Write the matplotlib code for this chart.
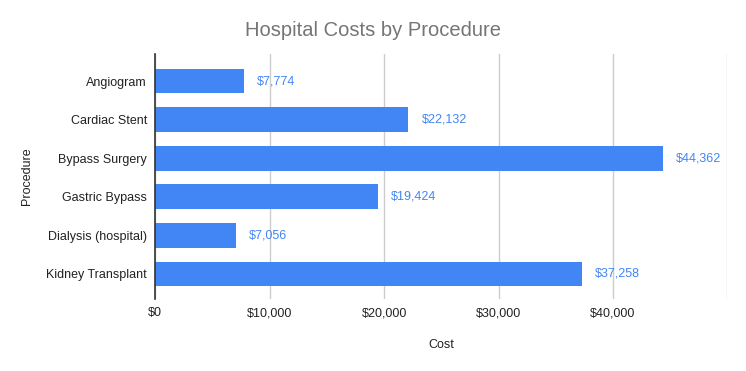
import matplotlib
matplotlib.use("Agg")
import matplotlib.pyplot as plt
from matplotlib.ticker import MultipleLocator

plt.rcParams['font.family'] = ['Liberation Sans', 'DejaVu Sans']

procedures = ["Angiogram", "Cardiac Stent", "Bypass Surgery", "Gastric Bypass",
              "Dialysis (hospital)", "Kidney Transplant"]
costs = [7774, 22132, 44362, 19424, 7056, 37258]
x_ticks = [0, 10000, 20000, 30000, 40000]

fig = plt.figure(figsize=(7.46, 3.71), dpi=100)
W, H = 746, 371
ax = fig.add_axes([155.3 / W, 1 - 299 / H, (727.3 - 155.3) / W, (299 - 54) / H])

bar_color = "#4285F4"
ypos = list(range(len(procedures)))
ax.barh(ypos, costs, height=0.64, color=bar_color, zorder=3)

for y, v in zip(ypos, costs):
    ax.annotate(f"${v:,.0f}", xy=(v, y), xytext=(13, 0), textcoords="offset pixels",
                va="center", ha="left", fontsize=9, color=bar_color)

ax.set_xlim(0, 50000)
ax.set_ylim(5.65, -0.7)
ax.set_xticks(x_ticks + [50000])
ax.set_xticklabels([f"${t:,.0f}" for t in x_ticks] + [""])
ax.set_yticks(ypos)
ax.set_yticklabels(procedures)
ax.tick_params(axis="both", length=0, labelsize=9, colors="#222222")
ax.tick_params(axis="x", pad=6)
ax.tick_params(axis="y", pad=6)

ax.grid(axis="x", color="#cccccc", linewidth=1, zorder=0)
for s in ["top", "right", "bottom"]:
    ax.spines[s].set_visible(False)
ax.spines["left"].set_color("#333333")
ax.spines["left"].set_linewidth(1.2)
ax.spines["left"].set_zorder(4)

fig.text(373 / W, 1 - 31 / H, "Hospital Costs by Procedure", ha="center", va="center",
         fontsize=14.5, color="#757575")
fig.text(441 / W, 1 - 345 / H, "Cost", ha="center", va="center", fontsize=9, color="#222222")
fig.text(27 / W, 1 - 176 / H, "Procedure", ha="center", va="center", rotation=90,
         fontsize=9, color="#222222")

fig.savefig("out.png", dpi=100, facecolor="white")
